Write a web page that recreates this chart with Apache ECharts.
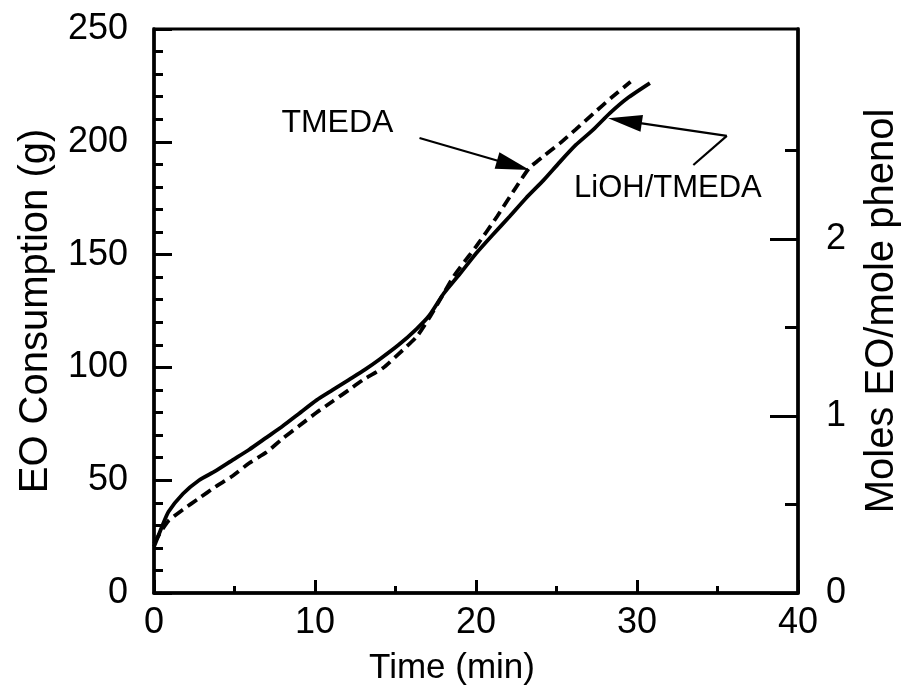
<!DOCTYPE html>
<html>
<head>
<meta charset="utf-8">
<title>EO consumption</title>
<script src="https://cdn.jsdelivr.net/npm/echarts@6/dist/echarts.min.js"></script>
<style>
  html, body { margin: 0; padding: 0; background: #fff; }
  #main { width: 905px; height: 695px; }
</style>
</head>
<body>
<div id="main"></div>
<script>
// LiOH/TMEDA (solid)
const liohTime = [0, 0.5, 0.9, 1.8, 2.8, 3.8, 4.9, 5.9, 7.0, 8.0, 9.0, 10.1, 11.1, 12.1, 13.1, 14.0, 15.2, 16.3, 17.1, 18.0, 19.0, 20.0, 21.0, 22.1, 23.1, 24.2, 25.2, 26.2, 27.3, 28.3, 29.4, 30.8];
const liohEO = [20.5, 29.5, 36, 44, 50, 54, 59, 63.5, 69, 74, 79.5, 85.5, 90, 94.5, 99, 103.5, 110, 117, 123, 132.8, 141.5, 150.5, 158.5, 167, 175, 183, 191, 198.6, 205.5, 212.6, 219.3, 226];
// TMEDA (dashed)
const tmedaTime = [0, 0.5, 0.9, 1.8, 2.8, 3.8, 4.9, 5.9, 7.0, 8.0, 9.0, 10.1, 11.1, 12.1, 13.1, 14.2, 15.2, 16.3, 17.1, 17.6, 18.6, 19.3, 20.0, 21.3, 22.5, 23.3, 24.2, 25.2, 26.2, 27.3, 28.4, 29.6];
const tmedaEO = [22, 28, 32, 37, 42, 47, 52, 57.5, 62.5, 68.5, 74, 80, 85, 90, 95, 99.6, 106, 113.5, 122, 128, 140.2, 147, 153.5, 166.8, 180, 188.3, 193.7, 199.3, 205.5, 212.6, 219.5, 226.6];

const gramsPerMole = 78.5;
const xTicks = [0, 10, 20, 30, 40];
const moleTicks = [0, 1, 2];
const moleMinorTicks = [0.5, 1.5, 2.5];

const font = 'Liberation Sans, Arial, sans-serif';
const pair = (xs, ys) => xs.map((x, i) => [x, ys[i]]);

const chart = echarts.init(document.getElementById('main'));

const tickLine = { color: '#000', width: 3 };

chart.setOption({
  animation: false,
  grid: {
    left: 154, right: 107, top: 29, bottom: 102,
    outerBoundsMode: 'none',
    show: true, borderColor: '#000', borderWidth: 3, backgroundColor: 'transparent'
  },
  xAxis: {
    type: 'value', min: xTicks[0], max: xTicks[xTicks.length - 1], interval: 10,
    name: 'Time (min)', nameLocation: 'middle', nameGap: 58,
    nameTextStyle: { fontFamily: font, fontSize: 35, color: '#000', padding: [0, 48, 0, 0] },
    axisLine: { lineStyle: { color: '#000', width: 3.5 } },
    axisTick: { inside: true, length: 13, lineStyle: tickLine },
    minorTick: { show: true, splitNumber: 2, length: 7, lineStyle: tickLine },
    axisLabel: { fontFamily: font, fontSize: 36, color: '#000', margin: 12 },
    splitLine: { show: false }
  },
  yAxis: [
    {
      type: 'value', position: 'left', min: 0, max: 250, interval: 50,
      name: 'EO Consumption (g)', nameLocation: 'middle', nameGap: 98,
      nameTextStyle: { fontFamily: font, fontSize: 40, color: '#000' },
      axisLine: { show: true, lineStyle: { color: '#000', width: 3.5 } },
      axisTick: { inside: true, length: 18, lineStyle: tickLine },
      minorTick: { show: true, splitNumber: 5, length: 9, lineStyle: tickLine },
      axisLabel: { fontFamily: font, fontSize: 36, color: '#000', margin: 26 },
      splitLine: { show: false }
    },
    {
      type: 'value', position: 'right', min: 0, max: 250 / gramsPerMole,
      name: 'Moles EO/mole phenol', nameLocation: 'middle', nameGap: 64, nameRotate: 90,
      nameTextStyle: { fontFamily: font, fontSize: 40, color: '#000' },
      axisLine: { show: true, lineStyle: { color: '#000', width: 3.5 } },
      axisTick: { show: true, inside: true, length: 28, customValues: moleTicks, lineStyle: tickLine },
      axisLabel: { fontFamily: font, fontSize: 36, color: '#000', margin: 28, customValues: moleTicks },
      splitLine: { show: false }
    },
    {
      type: 'value', position: 'right', min: 0, max: 250 / gramsPerMole,
      axisLine: { show: false },
      axisTick: { show: true, inside: true, length: 13, customValues: moleMinorTicks, lineStyle: tickLine },
      axisLabel: { show: false },
      splitLine: { show: false }
    }
  ],
  series: [
    {
      name: 'LiOH/TMEDA', type: 'line', data: pair(liohTime, liohEO),
      showSymbol: false, smooth: 0.2,
      lineStyle: { color: '#000', width: 3.8 },
      markLine: {
        silent: true, label: { show: false },
        lineStyle: { color: '#000', width: 2.2, type: 'solid' },
        symbolSize: [17, 34],
        data: [
          [{ coord: [33.5, 189.7], symbol: 'none' }, { coord: [35.58, 202.6], symbol: 'none' }],
          [{ coord: [35.58, 202.6], symbol: 'none' }, { coord: [29.25, 209.3], symbol: 'triangle' }]
        ]
      },
      markPoint: {
        silent: true, symbol: 'rect', symbolSize: 1, itemStyle: { color: 'transparent' },
        label: { show: true, position: 'inside', formatter: '{b}', fontFamily: font, fontSize: 31, color: '#000' },
        data: [{ name: 'LiOH/TMEDA', coord: [31.92, 179.1] }]
      }
    },
    {
      name: 'TMEDA', type: 'line', data: pair(tmedaTime, tmedaEO),
      showSymbol: false, smooth: 0.2,
      lineStyle: { color: '#000', width: 3.8, type: [11, 6] },
      markLine: {
        silent: true, label: { show: false },
        lineStyle: { color: '#000', width: 2.2, type: 'solid' },
        symbolSize: [17, 34],
        data: [
          [{ coord: [16.49, 201.7], symbol: 'none' }, { coord: [22.32, 189.6], symbol: 'triangle' }]
        ]
      },
      markPoint: {
        silent: true, symbol: 'rect', symbolSize: 1, itemStyle: { color: 'transparent' },
        label: { show: true, position: 'inside', formatter: '{b}', fontFamily: font, fontSize: 32, color: '#000' },
        data: [{ name: 'TMEDA', coord: [11.39, 208.3] }]
      }
    }
  ]
});
</script>
</body>
</html>
